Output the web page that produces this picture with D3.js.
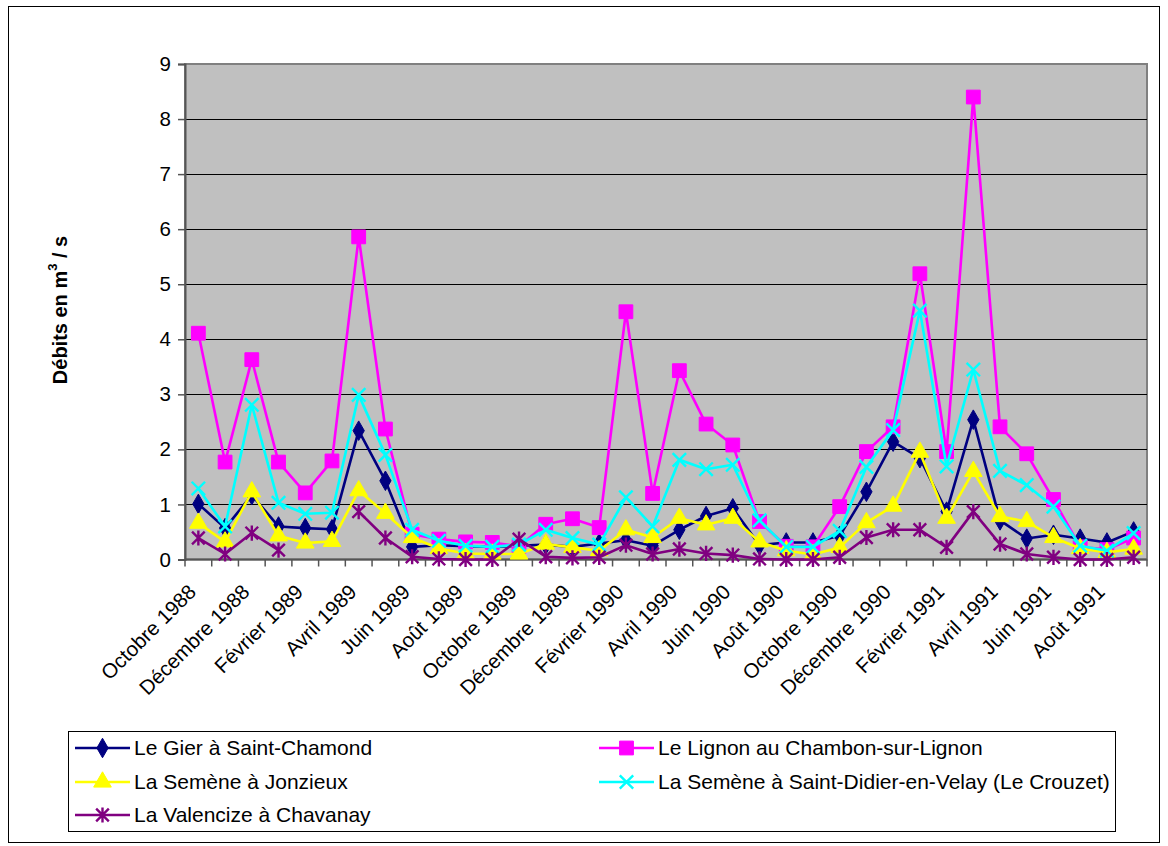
<!DOCTYPE html>
<html><head><meta charset="utf-8">
<script src="https://cdn.jsdelivr.net/npm/d3@7"></script>
<style>
body{margin:0;background:#fff}
svg{display:block}
text{font-family:"Liberation Sans",Arial,sans-serif;fill:#000}
</style>
</head><body>
<svg id="chart" width="1168" height="846"></svg>
<script>
const months = [
 "Octobre 1988","Novembre 1988","Décembre 1988","Janvier 1989","Février 1989","Mars 1989",
 "Avril 1989","Mai 1989","Juin 1989","Juillet 1989","Août 1989","Septembre 1989",
 "Octobre 1989","Novembre 1989","Décembre 1989","Janvier 1990","Février 1990","Mars 1990",
 "Avril 1990","Mai 1990","Juin 1990","Juillet 1990","Août 1990","Septembre 1990",
 "Octobre 1990","Novembre 1990","Décembre 1990","Janvier 1991","Février 1991","Mars 1991",
 "Avril 1991","Mai 1991","Juin 1991","Juillet 1991","Août 1991","Septembre 1991"];
const tickLabels = months.filter((m,i)=>i%2===0);
const yTicks = [0,1,2,3,4,5,6,7,8,9];

const gier = [1.01,0.57,1.17,0.6,0.57,0.55,2.34,1.43,0.23,0.26,0.24,0.23,0.25,0.27,0.23,0.29,0.35,0.25,0.54,0.79,0.93,0.26,0.31,0.31,0.43,1.23,2.14,1.84,0.87,2.54,0.71,0.38,0.45,0.38,0.31,0.51];
const lignon = [4.11,1.77,3.63,1.77,1.21,1.79,5.86,2.37,0.46,0.37,0.32,0.31,0.24,0.64,0.74,0.58,4.5,1.2,3.43,2.46,2.08,0.69,0.24,0.23,0.96,1.96,2.41,5.19,1.96,8.4,2.41,1.92,1.09,0.23,0.18,0.39];
const jonzieux = [0.66,0.32,1.23,0.43,0.3,0.33,1.25,0.84,0.4,0.2,0.11,0.1,0.1,0.28,0.22,0.16,0.54,0.4,0.75,0.63,0.75,0.32,0.16,0.09,0.22,0.67,0.97,1.95,0.75,1.6,0.78,0.69,0.4,0.2,0.13,0.19];
const crouzet = [1.29,0.6,2.81,1.03,0.83,0.85,2.99,1.9,0.54,0.34,0.25,0.23,0.27,0.54,0.39,0.27,1.13,0.6,1.81,1.64,1.72,0.71,0.23,0.23,0.52,1.68,2.35,4.52,1.69,3.45,1.61,1.35,0.96,0.25,0.16,0.48];
const valencize = [0.39,0.1,0.48,0.17,null,null,0.87,0.39,0.05,0.01,0,0,0.37,0.05,0.03,0.04,0.26,0.1,0.19,0.11,0.08,0.01,0,0,0.04,0.4,0.54,0.54,0.22,0.87,0.28,0.1,0.04,0,0,0.04];

const seriesNames = ["Le Gier à Saint-Chamond","Le Lignon au Chambon-sur-Lignon","La Semène à Jonzieux","La Semène à Saint-Didier-en-Velay (Le Crouzet)","La Valencize à Chavanay"];
const seriesColors = ["#000080","#FF00FF","#FFFF00","#00FFFF","#800080"];
const seriesValues = [gier,lignon,jonzieux,crouzet,valencize];

// custom symbols
const symX = {draw(ctx,size){const r=Math.sqrt(size)/2;ctx.moveTo(-r,-r);ctx.lineTo(r,r);ctx.moveTo(r,-r);ctx.lineTo(-r,r);}};
const symStar = {draw(ctx,size){const r=Math.sqrt(size)/2;ctx.moveTo(-r,-r);ctx.lineTo(r,r);ctx.moveTo(r,-r);ctx.lineTo(-r,r);ctx.moveTo(0,-r*1.2);ctx.lineTo(0,r*1.2);}};
const markers = [
 {type:d3.symbolDiamond,size:110,filled:true},
 {type:d3.symbolSquare,size:190,filled:true},
 {type:d3.symbolTriangle,size:135,filled:true},
 {type:symX,size:180,filled:false},
 {type:symStar,size:160,filled:false}
];

const FS = 20.5;
const svg = d3.select("#chart");
const L=185,R=1147,T=64,B=559.5;

svg.append("rect").attr("x",8.5).attr("y",6.5).attr("width",1151).attr("height",836)
  .attr("fill","#fff").attr("stroke","#000").attr("stroke-width",1);

const x = d3.scaleBand().domain(months).range([L,R]).padding(0);
const y = d3.scaleLinear().domain([0,9]).range([B,T]);

// plot area
svg.append("rect").attr("x",L).attr("y",T).attr("width",R-L).attr("height",B-T)
  .attr("fill","#C0C0C0").attr("stroke","#808080").attr("stroke-width",2);

// gridlines
svg.append("g").selectAll("line").data(yTicks.filter(d=>d>0&&d<9)).join("line")
  .attr("x1",L).attr("x2",R).attr("y1",d=>Math.round(y(d))+0.5).attr("y2",d=>Math.round(y(d))+0.5)
  .attr("stroke","#000").attr("stroke-width",1);

// y axis
const yAxis = d3.axisLeft(y).tickValues(yTicks).tickSize(7).tickPadding(7).tickFormat(d3.format("d"));
const gy = svg.append("g").attr("transform",`translate(${L},0)`).call(yAxis);
gy.select(".domain").attr("stroke","#555").attr("stroke-width",2);
gy.selectAll(".tick line").attr("stroke","#555").attr("stroke-width",1.5);
gy.selectAll(".tick text").attr("font-size",FS).attr("font-family","Liberation Sans, Arial, sans-serif").attr("fill","#000");

// x axis (ticks between categories)
const gx = svg.append("g").attr("transform",`translate(0,${B})`);
gx.append("line").attr("x1",L).attr("x2",R).attr("y1",0).attr("y2",0).attr("stroke","#555").attr("stroke-width",2);
const bounds = months.map(m=>x(m)).concat([R]);
gx.selectAll("line.tk").data(bounds).join("line").attr("class","tk")
  .attr("x1",d=>d).attr("x2",d=>d).attr("y1",0).attr("y2",7).attr("stroke","#555").attr("stroke-width",1.5);
gx.selectAll("text").data(tickLabels).join("text")
  .attr("transform",d=>`translate(${x(d)+x.bandwidth()/2-6},${588-B}) rotate(-45)`)
  .attr("text-anchor","end").attr("dy","0.35em").attr("font-size",FS).text(d=>d);

// y title
const yt = svg.append("text").attr("transform","translate(67,310) rotate(-90)")
  .attr("text-anchor","middle").attr("font-size",20).attr("font-weight","bold");
yt.append("tspan").text("Débits en m");
yt.append("tspan").attr("font-size",13).attr("dy","-0.75em").text("3");
yt.append("tspan").attr("dy","0.5em").text(" / s");

// series
const cx = m => x(m)+x.bandwidth()/2;
seriesValues.forEach((vals,si)=>{
  const data = months.map((m,i)=>({m,v:vals[i]}));
  const line = d3.line().defined(d=>d.v!=null).x(d=>cx(d.m)).y(d=>y(d.v));
  const g = svg.append("g");
  g.append("path").datum(data).attr("d",line).attr("fill","none")
   .attr("stroke",seriesColors[si]).attr("stroke-width",2.6).attr("stroke-linejoin","round");
  const mk = markers[si];
  g.selectAll("path.mk").data(data.filter(d=>d.v!=null)).join("path").attr("class","mk")
   .attr("transform",d=>`translate(${cx(d.m)},${y(d.v)})`)
   .attr("d",d3.symbol().type(mk.type).size(mk.size))
   .attr("fill",mk.filled?seriesColors[si]:"none")
   .attr("stroke",seriesColors[si]).attr("stroke-width",mk.filled?1:2.4);
});

// legend
const lg = svg.append("g");
lg.append("rect").attr("x",68.5).attr("y",731.5).attr("width",1047).attr("height",100)
  .attr("fill","#fff").attr("stroke","#000").attr("stroke-width",1);
const legPos = [[75,748],[599,748],[75,782],[599,782],[75,815]];
seriesNames.forEach((n,si)=>{
  const [lx,ly]=legPos[si];
  const g = lg.append("g");
  g.append("line").attr("x1",lx).attr("x2",lx+55).attr("y1",ly).attr("y2",ly)
   .attr("stroke",seriesColors[si]).attr("stroke-width",2.6);
  const mk = markers[si];
  g.append("path").attr("transform",`translate(${lx+27.5},${ly})`)
   .attr("d",d3.symbol().type(mk.type).size(mk.size))
   .attr("fill",mk.filled?seriesColors[si]:"none")
   .attr("stroke",seriesColors[si]).attr("stroke-width",mk.filled?1:2.4);
  g.append("text").attr("x",lx+59).attr("y",ly).attr("dy","0.35em").attr("font-size",21).text(n);
});
</script>
</body></html>
